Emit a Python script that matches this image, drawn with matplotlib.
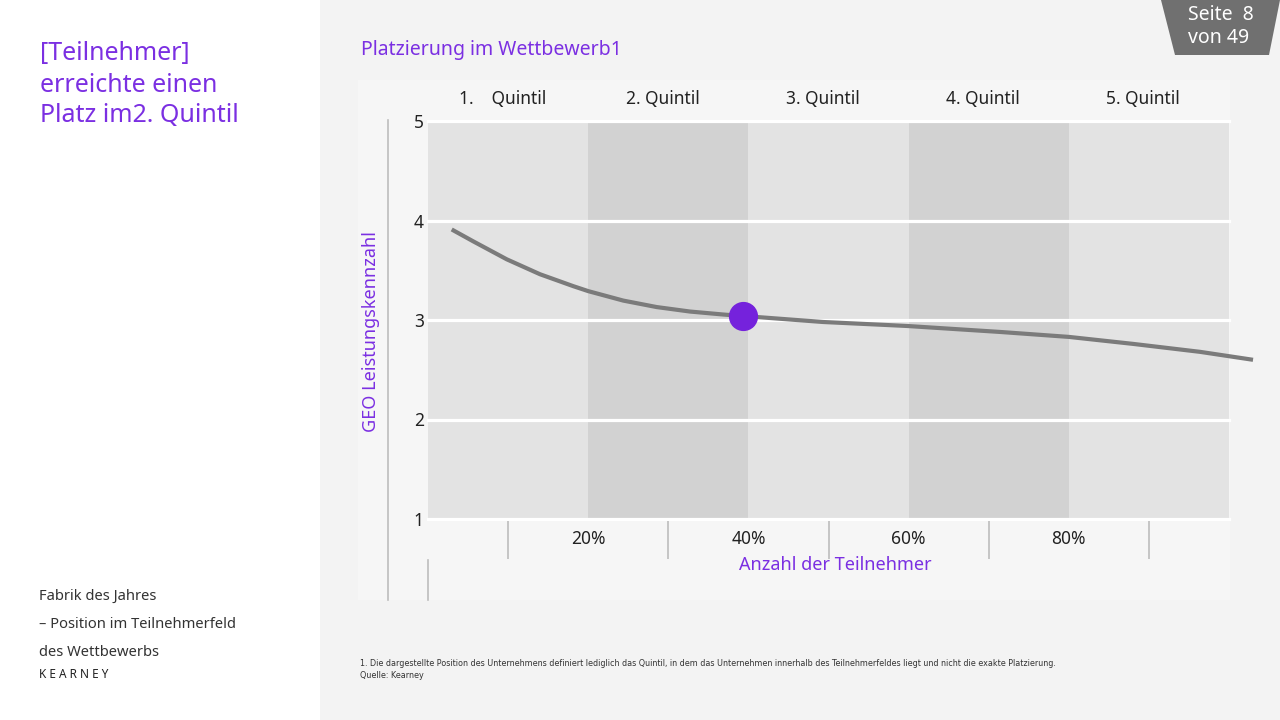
import matplotlib.pyplot as plt
from matplotlib.patches import Rectangle, Polygon
from matplotlib.lines import Line2D

# curve (percent of participants, score)
curve_pct = [2.96, 5.66, 9.83, 13.98, 18.14, 20.01, 24.38, 28.55, 32.71, 36.87,
             39.3, 41.07, 49.31, 59.80, 71.41, 80.02, 88.01, 96.38, 103.0]
curve_val = [3.91, 3.79, 3.61, 3.46, 3.34, 3.29, 3.195, 3.13, 3.085, 3.055,
             3.04, 3.03, 2.98, 2.94, 2.88, 2.83, 2.76, 2.68, 2.60]

# participant marker
point_pct = 39.3
point_val = 3.04

quintile_labels = ["1.    Quintil", "2. Quintil", "3. Quintil", "4. Quintil", "5. Quintil"]
x_tick_pos = [20, 40, 60, 80]
x_tick_labels = ["20%", "40%", "60%", "80%"]
y_ticks = [1, 2, 3, 4, 5]

PURPLE = "#7b2fe2"
DOT = "#7522dc"
W, H = 1280, 720

plt.rcParams['font.family'] = ['Noto Sans', 'DejaVu Sans']

fig = plt.figure(figsize=(12.8, 7.2), dpi=100)
fig.patch.set_facecolor("#f3f3f3")


def fx(px):
    return px / W


def fy(py):
    return 1 - py / H


# left white panel and chart panel (behind the axes)
fig.patches.append(Rectangle((0, 0), fx(320), 1, transform=fig.transFigure,
                             facecolor="white", edgecolor="none", zorder=-2))
fig.patches.append(Rectangle((fx(358), fy(600)), fx(1230 - 358), (600 - 80) / H,
                             transform=fig.transFigure, facecolor="#f6f6f6",
                             edgecolor="none", zorder=-2))

# page badge
badge = Polygon([(fx(1161), fy(0)), (fx(1280), fy(0)), (fx(1269), fy(55)), (fx(1175), fy(55))],
                closed=True, transform=fig.transFigure, facecolor="#707070", edgecolor="none")
fig.patches.append(badge)
fig.text(fx(1221), fy(15), "Seite  8", color="white", fontsize=14, ha="center", va="center")
fig.text(fx(1219), fy(38), "von 49", color="white", fontsize=14, ha="center", va="center")

# left headline
fig.text(fx(40), fy(53), "[Teilnehmer]", color=PURPLE, fontsize=18, va="center")
fig.text(fx(40), fy(86), "erreichte einen", color=PURPLE, fontsize=18, va="center")
fig.text(fx(40), fy(115), "Platz im2. Quintil", color=PURPLE, fontsize=18, va="center")

# left footer
fig.text(fx(39), fy(596), "Fabrik des Jahres", color="#333333", fontsize=10.6, va="center")
fig.text(fx(39), fy(624), "– Position im Teilnehmerfeld", color="#333333", fontsize=10.6, va="center")
fig.text(fx(39), fy(652), "des Wettbewerbs", color="#333333", fontsize=10.6, va="center")
fig.text(fx(39), fy(675), "K E A R N E Y", color="#222222", fontsize=8.5, va="center")

# chart title
fig.text(fx(361), fy(50), "Platzierung im Wettbewerb1", color=PURPLE, fontsize=14, va="center")

# footnote
fig.text(fx(360), fy(664),
         "1. Die dargestellte Position des Unternehmens definiert lediglich das Quintil, in dem das "
         "Unternehmen innerhalb des Teilnehmerfeldes liegt und nicht die exakte Platzierung.",
         color="#333333", fontsize=5.8, va="center",
         family=['Liberation Sans Narrow', 'DejaVu Sans'])
fig.text(fx(360), fy(675), "Quelle: Kearney", color="#333333", fontsize=5.8, va="center",
         family=['Liberation Sans Narrow', 'DejaVu Sans'])

# frame lines around the axis area
fig.lines.append(Line2D([fx(388), fx(388)], [fy(120), fy(600)], transform=fig.transFigure,
                        color="#bdbdbd", lw=1.2))
fig.lines.append(Line2D([fx(428), fx(428)], [fy(560), fy(600)], transform=fig.transFigure,
                        color="#bdbdbd", lw=1.2))

# main axes
ax = fig.add_axes([fx(428), fy(519), fx(1229 - 428), (519 - 121) / H])
ax.set_facecolor("none")
ax.set_xlim(0, 100)
ax.set_ylim(1, 5)

for i in range(5):
    ax.axvspan(i * 20, (i + 1) * 20, color="#e3e3e3" if i % 2 == 0 else "#d2d2d2",
               zorder=0, lw=0)
    ax.text(i * 20 + 9.3, 5.22, quintile_labels[i], ha="center", va="center",
            fontsize=12.5, color="#222222")

for v in y_ticks:
    ax.axhline(v, color="white", lw=2.3, zorder=1, clip_on=False)

ax.plot(curve_pct, curve_val, color="#7b7b7b", lw=3, zorder=2, clip_on=False,
        solid_capstyle="butt", solid_joinstyle="round")
ax.plot([point_pct], [point_val], "o", color=DOT, markersize=20, zorder=3, clip_on=False)

# tick separators between percent labels
ax.vlines([10, 30, 50, 70, 90], -0.005, -0.1, transform=ax.get_xaxis_transform(),
          color="#bdbdbd", lw=1.2, clip_on=False)

ax.set_xticks(x_tick_pos)
ax.set_xticklabels(x_tick_labels, fontsize=12.5, color="#222222")
ax.set_yticks(y_ticks)
ax.set_yticklabels([str(v) for v in y_ticks], fontsize=12.5, color="#222222")
ax.tick_params(axis="x", length=0, pad=8)
ax.tick_params(axis="y", length=0, pad=3)
for s in ax.spines.values():
    s.set_visible(False)

ax.text(50.8, -0.115, "Anzahl der Teilnehmer", transform=ax.get_xaxis_transform(),
        ha="center", va="center", color=PURPLE, fontsize=13)
fig.text(fx(371), fy(332), "GEO Leistungskennzahl", rotation=90, ha="center", va="center",
         color=PURPLE, fontsize=13)

fig.savefig("out.png", dpi=100, facecolor=fig.get_facecolor())
